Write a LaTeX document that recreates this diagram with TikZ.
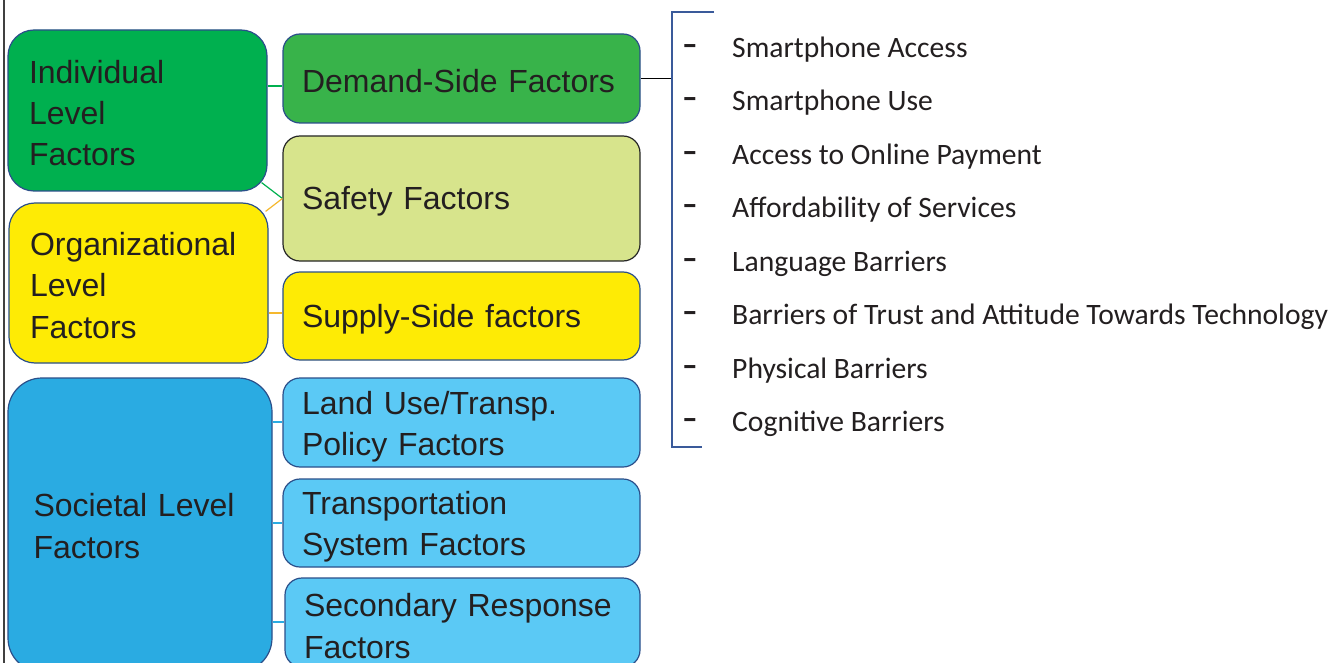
\documentclass[tikz,border=0pt]{standalone}
\usepackage{fontspec}
\setmainfont{Liberation Sans}
\newfontfamily\listfont{Carlito}
\definecolor{indgreen}{HTML}{00B04F}
\definecolor{demgreen}{HTML}{38B34A}
\definecolor{safgreen}{HTML}{D7E48C}
\definecolor{yel}{HTML}{FEEB05}
\definecolor{socblue}{HTML}{2AABE2}
\definecolor{lblue}{HTML}{5BC9F5}
\definecolor{bord}{HTML}{2B4F8A}
\definecolor{txt}{HTML}{231F20}
\definecolor{conorange}{HTML}{F5B82E}
\definecolor{brk}{HTML}{3A5A9A}
\begin{document}
\begin{tikzpicture}[x=1pt,y=-1pt,
  lvlbox/.style={draw=bord, line width=1.2pt, rounded corners=26pt, inner sep=0pt},
  subbox/.style={draw=bord, line width=1.2pt, rounded corners=17pt, inner sep=0pt},
  boxtext/.style={inner sep=0pt, align=left, text=txt, font=\fontsize{32}{41.3}\selectfont},
  conn/.style={line width=1.2pt},
  itemtext/.style={anchor=base west, inner sep=0pt, text=txt, font=\listfont\fontsize{29.6}{30}\selectfont},
  dashtext/.style={anchor=base west, inner sep=0pt, text=txt, font=\listfont\bfseries\fontsize{29.6}{30}\selectfont}]
\useasboundingbox (0,0) rectangle (1343,663);
\clip (0,0) rectangle (1343,663);
\fill[white] (0,0) rectangle (1343,663);
% left border line
\coordinate (lt) at (4,0);
\coordinate (lb) at (4,663);
\draw[line width=1.2pt, black!75] (lt) -- (lb);
% level boxes
\node[lvlbox, fill=indgreen, minimum width=259pt, minimum height=161pt] (ind) at (137.5,110.5) {};
\node[lvlbox, fill=yel, minimum width=259pt, minimum height=160pt] (org) at (138.5,283) {};
\node[lvlbox, rounded corners=34pt, fill=socblue, minimum width=264pt, minimum height=294pt] (soc) at (140,525) {};
% sub boxes
\node[subbox, fill=demgreen, minimum width=357pt, minimum height=89pt] (dem) at (461.5,78.5) {};
\node[subbox, draw=black!85, fill=safgreen, minimum width=357pt, minimum height=125pt] (saf) at (461.5,198.5) {};
\node[subbox, fill=yel, minimum width=357pt, minimum height=88pt] (sup) at (461.5,316) {};
\node[subbox, fill=lblue, minimum width=357pt, minimum height=89pt] (land) at (461.5,422.5) {};
\node[subbox, fill=lblue, minimum width=357pt, minimum height=88pt] (trans) at (461.5,523) {};
\node[subbox, fill=lblue, minimum width=355pt, minimum height=89pt] (sec) at (462.5,622.5) {};
% box texts
\node[boxtext, text width=217pt] (indT) at ([yshift=-2.5pt]ind.center) {Individual\\Level\\Factors};
\node[boxtext, text width=217pt] (orgT) at ([yshift=-2.5pt]org.center) {Organizational\\Level\\Factors};
\node[boxtext, text width=212pt] (socT) at ([xshift=-0.5pt,yshift=-1pt]soc.center) {Societal Level\\Factors};
\node[boxtext, text width=319pt] (demT) at ([yshift=-3pt]dem.center) {Demand-Side Factors};
\node[boxtext, text width=319pt] (safT) at ([yshift=-3pt]saf.center) {Safety Factors};
\node[boxtext, text width=319pt] (supT) at ([yshift=-3pt]sup.center) {Supply-Side factors};
\node[boxtext, text width=319pt] (landT) at ([yshift=-4.5pt]land.center) {Land Use/Transp.\\Policy Factors};
\node[boxtext, text width=319pt] (transT) at ([yshift=-3.5pt]trans.center) {Transportation\\System Factors};
\node[boxtext, text width=317pt] (secT) at ([yshift=-3.5pt]sec.center) {Secondary Response\\Factors};
% connectors
\draw[conn, indgreen] ([yshift=24.5pt]ind.east) -- ([yshift=24.5pt]ind.east -| dem.west);
\draw[conn, indgreen] ([xshift=-6pt,yshift=9pt]ind.south east) -- (saf.west);
\draw[conn, conorange] ([xshift=-3pt,yshift=-9pt]org.north east) -- (saf.west);
\draw[conn, conorange] ([yshift=-30pt]org.east) -- ([yshift=-30pt]org.east -| sup.west);
\draw[conn, socblue] ([yshift=103pt]soc.east) -- ([yshift=103pt]soc.east -| land.west);
\draw[conn, socblue] ([yshift=2pt]soc.east) -- ([yshift=2pt]soc.east -| trans.west);
\draw[conn, socblue] ([yshift=-97pt]soc.east) -- ([yshift=-97pt]soc.east -| sec.west);
% bracket
\coordinate (bt) at (714,12);
\coordinate (btl) at (672,12);
\coordinate (bm) at (672,78.5);
\coordinate (bbl) at (672,447);
\coordinate (bb) at (702,447);
\draw[conn, black] (dem.east) -- (bm);
\draw[line width=1.3pt, brk] (bt) -- (btl) -- (bbl) -- (bb);
% list
\foreach \t [count=\i] in {Smartphone Access, Smartphone Use, Access to Online Payment, Affordability of Services, Language Barriers, Barriers of Trust and Attitude Towards Technology, Physical Barriers, Cognitive Barriers}{
  \node[dashtext] (d\i) at (683, 54.5+53.43*\i-53.43) {\scalebox{1.5}[1]{-}};
  \node[itemtext] (it\i) at (732, 57.5+53.43*\i-53.43) {\t};
}
\end{tikzpicture}
\end{document}
